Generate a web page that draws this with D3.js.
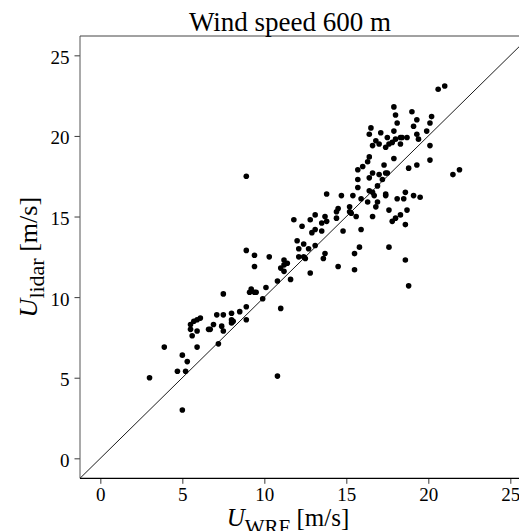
<!DOCTYPE html>
<html>
<head>
<meta charset="utf-8">
<script src="https://cdn.jsdelivr.net/npm/d3@7"></script>
<style>
  body { margin: 0; background: #fff; }
  svg { display: block; font-family: "Liberation Serif", "DejaVu Serif", serif; }
</style>
</head>
<body>
<svg id="chart"></svg>
<script>
// wind speed pairs, WRF model vs lidar, 600 m
const wrf = [3.0,5.0,3.9,5.0,5.3,4.7,5.2,5.9,7.2,5.6,
  5.9,5.5,5.5,5.7,5.9,6.1,6.6,6.7,6.9,7.4,
  7.5,7.1,7.5,8.0,8.0,8.1,8.0,8.5,8.9,8.9,
  7.5,9.1,9.2,9.4,9.5,9.9,10.1,10.8,11.0,10.8,
  11.6,11.0,11.2,11.2,11.4,11.2,9.4,10.3,9.4,8.9,
  12.1,12.0,12.4,12.7,13.1,12.1,12.4,12.5,13.7,13.6,
  12.8,12.8,11.8,12.3,13.1,13.7,13.8,13.5,13.1,12.9,
  13.5,13.8,8.9,14.5,15.5,15.5,15.8,14.8,15.9,14.4,
  14.5,15.2,15.2,15.3,15.6,14.7,15.4,15.9,16.3,16.9,
  16.8,16.6,16.4,16.6,16.7,15.7,16.9,15.7,16.4,17.2,
  16.6,17.0,17.4,17.5,15.7,16.0,17.3,16.4,16.3,17.9,
  18.8,19.3,20.1,21.5,21.9,17.4,17.4,18.1,18.5,18.6,
  19.1,19.5,17.6,18.7,18.3,18.0,17.8,18.6,17.6,18.6,
  18.8,16.6,16.8,17.0,17.4,17.6,17.8,17.5,18.0,18.3,
  18.4,18.7,18.3,16.4,16.5,17.1,17.9,17.9,18.0,18.1,
  19.0,19.3,19.1,19.3,19.4,19.9,20.1,20.1,20.2,20.6,
  21.0,14.4];

const lidar = [5.0,3.0,6.9,6.4,6.0,5.4,5.4,6.9,7.1,7.6,
  7.9,8.0,8.3,8.5,8.6,8.7,8.0,8.0,8.3,8.2,
  7.9,8.9,8.9,9.0,8.6,8.5,8.4,9.1,8.6,9.4,
  10.2,10.3,10.5,10.3,10.3,9.9,10.6,5.1,9.3,11.0,
  11.1,11.8,11.6,12.3,12.1,12.0,12.6,12.5,11.9,12.9,
  13.0,13.5,13.3,13.0,13.2,12.5,12.5,12.4,12.7,12.4,
  11.5,14.8,14.8,14.4,15.1,15.0,14.7,14.6,14.2,14.0,
  14.1,16.4,17.5,11.9,11.7,12.7,13.1,14.1,14.2,14.9,
  15.5,15.6,15.3,15.2,15.0,16.3,16.3,16.1,15.9,15.9,
  15.6,15.0,16.6,16.5,16.3,16.8,16.9,17.3,17.4,17.3,
  17.7,17.6,17.7,17.7,17.9,18.1,18.2,18.7,18.4,18.6,
  18.0,18.2,18.5,17.6,17.9,16.3,16.4,16.1,16.1,16.5,
  16.3,16.2,15.4,15.4,15.1,14.9,14.7,14.5,13.1,12.3,
  10.7,19.4,19.7,19.5,19.3,19.5,19.6,19.9,19.8,19.9,
  19.9,19.9,19.5,20.1,20.5,20.2,20.3,21.8,21.3,20.8,
  21.5,21.0,20.6,20.1,19.8,20.3,19.4,20.8,21.2,22.9,
  23.1,15.3];

const xTicks = [0, 5, 10, 15, 20, 25];
const yTicks = [0, 5, 10, 15, 20, 25];
const axisMin = -1.24, axisMax = 26.2;
const title = "Wind speed 600 m";

const width = 519, height = 531;
const svg = d3.select("#chart").attr("width", width).attr("height", height);

// axes box runs past the right edge of the picture
const box = { left: 80, top: 36, bottom: 478.3, right: 530 };

let x = d3.scaleLinear().domain([axisMin, axisMax]).range([box.left, box.right]);
let y = d3.scaleLinear().domain([axisMin, axisMax]).range([box.bottom, box.top]);

svg.append("clipPath").attr("id", "plotclip")
  .append("rect").attr("x", box.left).attr("y", box.top)
  .attr("width", box.right - box.left).attr("height", box.bottom - box.top);

let plot = svg.append("g").attr("clip-path", "url(#plotclip)");

// 1:1 line
plot.append("line")
  .attr("x1", x(axisMin)).attr("y1", y(axisMin))
  .attr("x2", x(axisMax)).attr("y2", y(axisMax))
  .attr("stroke", "#000").attr("stroke-width", 0.9);

plot.selectAll("circle")
  .data(wrf.map((d, i) => [d, lidar[i]]))
  .enter()
  .append("circle")
  .attr("cx", (d) => x(d[0]))
  .attr("cy", (d) => y(d[1]))
  .attr("r", 2.8)
  .attr("fill", "#000");

// axes
let xAxis = svg.append("g")
  .attr("transform", "translate(0," + box.bottom + ")")
  .call(d3.axisBottom(x).tickValues(xTicks).tickSize(5.5).tickPadding(4).tickFormat(d3.format("d")));
let yAxis = svg.append("g")
  .attr("transform", "translate(" + box.left + ",0)")
  .call(d3.axisLeft(y).tickValues(yTicks).tickSize(5.5).tickPadding(5).tickFormat(d3.format("d")));

xAxis.select(".domain").remove();
yAxis.select(".domain").remove();
svg.selectAll(".tick line").attr("stroke", "#222").attr("stroke-width", 0.9);
svg.selectAll(".tick text")
  .attr("fill", "#000")
  .attr("font-family", "Liberation Serif")
  .attr("font-size", "19px");
yAxis.selectAll(".tick text").attr("dy", "0.42em");

// spines
svg.append("line").attr("x1", box.left).attr("x2", box.left).attr("y1", box.top).attr("y2", box.bottom)
  .attr("stroke", "#555").attr("stroke-width", 1);
svg.append("line").attr("x1", box.left).attr("x2", width).attr("y1", box.top).attr("y2", box.top)
  .attr("stroke", "#444").attr("stroke-width", 1);
svg.append("line").attr("x1", box.left).attr("x2", width).attr("y1", box.bottom).attr("y2", box.bottom)
  .attr("stroke", "#000").attr("stroke-width", 1.2);

// title
svg.append("text")
  .attr("x", 290).attr("y", 31)
  .attr("text-anchor", "middle")
  .attr("font-size", "27px")
  .text(title);

// x label, subscript runs off the bottom like the original
let xl = svg.append("text")
  .attr("x", 288).attr("y", 526)
  .attr("text-anchor", "middle")
  .attr("font-size", "25px");
xl.append("tspan").attr("font-style", "italic").text("U");
xl.append("tspan").attr("font-size", "21px").attr("dy", 8).text("WRF");
xl.append("tspan").attr("dy", -8).text(" [m/s]");

// y label
let yl = svg.append("text")
  .attr("transform", "translate(37," + (box.top + box.bottom) / 2 + ") rotate(-90)")
  .attr("text-anchor", "middle")
  .attr("font-size", "26px");
yl.append("tspan").attr("font-style", "italic").text("U");
yl.append("tspan").attr("font-size", "22px").attr("dy", 7).text("lidar");
yl.append("tspan").attr("dy", -7).text(" [m/s]");
</script>
</body>
</html>
